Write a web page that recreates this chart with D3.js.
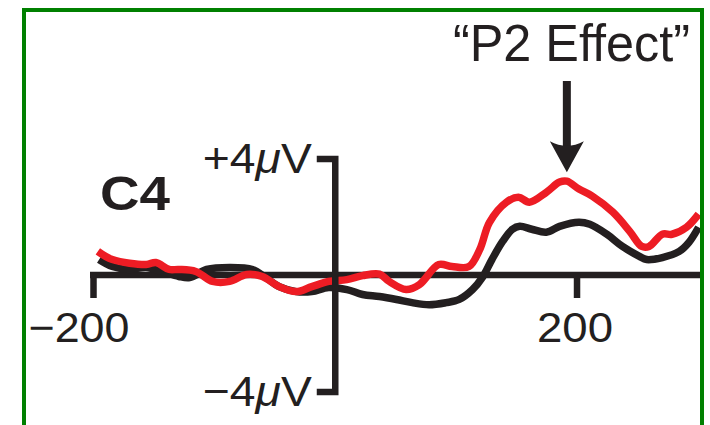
<!DOCTYPE html>
<html>
<head>
<meta charset="utf-8">
<script src="https://cdn.jsdelivr.net/npm/d3@7/dist/d3.min.js"></script>
<style>
  html, body { margin: 0; padding: 0; background: #fff; }
  svg { display: block; }
  text { font-family: "Liberation Sans", Arial, Helvetica, sans-serif; fill: #231f20; }
</style>
</head>
<body>
<svg id="chart" width="710" height="425"></svg>
<script>
// Grand-average ERP at electrode C4, two conditions (time in ms, amplitude in µV)
const redTimes  = [-196, -184, -156, -148, -137, -129, -115, -101, -87, -73, -60, -46, -32, -19, -5, 10, 23, 37, 45, 59, 70, 86, 97, 111, 120, 128, 142, 152, 161, 175, 186, 192, 202, 213, 230, 244, 254, 260, 271, 279, 291, 301];
const redValues = [0.81, 0.53, 0.36, 0.43, 0.19, 0.19, 0.12, -0.22, -0.22, 0.02, -0.05, -0.40, -0.57, -0.40, -0.22, -0.16, -0.02, 0.03, -0.22, -0.50, -0.33, 0.36, 0.29, 0.29, 0.88, 1.81, 2.50, 2.67, 2.50, 2.84, 3.19, 3.22, 2.95, 2.71, 2.16, 1.50, 0.98, 0.98, 1.40, 1.40, 1.64, 2.09];

const blackTimes  = [-195, -184, -170, -156, -143, -129, -120, -106, -87, -68, -57, -46, -32, -19, -5, 10, 23, 37, 51, 64, 78, 92, 103, 114, 122, 130, 139, 147, 153, 163, 175, 186, 202, 211, 225, 238, 252, 258, 271, 285, 293, 301];
const blackValues = [0.53, 0.29, 0.19, 0.26, 0.12, -0.05, -0.09, 0.19, 0.26, 0.19, -0.09, -0.40, -0.57, -0.57, -0.43, -0.50, -0.67, -0.74, -0.84, -0.95, -1.02, -0.95, -0.84, -0.50, -0.09, 0.53, 1.16, 1.57, 1.67, 1.57, 1.47, 1.67, 1.81, 1.74, 1.40, 0.98, 0.64, 0.53, 0.60, 0.81, 1.12, 1.64];

const xTicks = [-200, 200];
const xTickLabels = ["\u2212200", "200"];
const yTicks = [4, -4];
const yTickLabels = [["+4", "V"], ["\u22124", "V"]];
const electrode = "C4";
const effectLabel = "\u201CP2 Effect\u201D";
const effectTime = 192;
const effectValue = 3.22;

const svg = d3.select("#chart");
const ink = "#231f20";
const red = "#ed1c24";

const x = d3.scaleLinear().domain([-200, 300]).range([93, 697.4]);
const y = d3.scaleLinear().domain([-4, 4]).range([391.5, 158.5]);

// panel frame (open at the bottom)
svg.append("path")
  .attr("d", "M24,430 V10 H702 V430")
  .attr("fill", "none")
  .attr("stroke", "#008000")
  .attr("stroke-width", 4);

svg.append("defs").append("clipPath").attr("id", "plotclip")
  .append("rect").attr("x", 0).attr("y", 0).attr("width", 700).attr("height", 425);

const plot = svg.append("g").attr("clip-path", "url(#plotclip)");

// time axis with downward ticks
const xAxis = d3.axisBottom(x)
  .tickValues(xTicks)
  .tickSizeInner(23)
  .tickSizeOuter(0)
  .tickPadding(10)
  .tickFormat((d, i) => xTickLabels[i]);

const gx = plot.append("g")
  .attr("transform", `translate(0,${y(0)})`)
  .call(xAxis);
gx.select(".domain")
  .attr("d", `M${x(-200) - 3},0 H${x(300) + 20}`)
  .attr("stroke", ink).attr("stroke-width", 6.5);
gx.selectAll(".tick line").attr("stroke", ink).attr("stroke-width", 6.5);
gx.selectAll(".tick text")
  .attr("text-anchor", "end")
  .attr("x", 36)
  .attr("y", 0)
  .attr("dy", 67)
  .attr("textLength", (d, i) => i === 0 ? 101 : 76)
  .attr("lengthAdjust", "spacingAndGlyphs")
  .style("font-size", "42px")
  .style("font-family", "'Liberation Sans', Arial, sans-serif")
  .attr("fill", ink);

// waveforms
const line = d3.line().curve(d3.curveCatmullRom.alpha(0.5));
const blackPts = blackTimes.map((t, i) => [x(t), y(blackValues[i])]);
const redPts = redTimes.map((t, i) => [x(t), y(redValues[i])]);

plot.append("path")
  .attr("d", line(blackPts))
  .attr("fill", "none").attr("stroke", ink)
  .attr("stroke-width", 7.5).attr("stroke-linejoin", "round");
plot.append("path")
  .attr("d", line(redPts))
  .attr("fill", "none").attr("stroke", red)
  .attr("stroke-width", 7.5).attr("stroke-linejoin", "round");

// amplitude axis: bracket with +/-4 µV ends
const yAxis = d3.axisLeft(y)
  .tickValues(yTicks)
  .tickSizeInner(0)
  .tickSizeOuter(18)
  .tickPadding(24)
  .tickFormat(() => "");

const gy = svg.append("g")
  .attr("transform", `translate(${x(0)},0)`)
  .call(yAxis);
gy.select(".domain").attr("stroke", ink).attr("stroke-width", 6.5).attr("fill", "none");
gy.selectAll(".tick line").remove();
gy.selectAll(".tick text").each(function (d, i) {
  const t = d3.select(this)
    .attr("text-anchor", "end")
    .attr("x", -23)
    .attr("dy", 14)
    .attr("textLength", 109)
    .attr("lengthAdjust", "spacingAndGlyphs")
    .style("font-size", "43px")
    .attr("fill", ink);
  t.append("tspan").text(yTickLabels[i][0]);
  t.append("tspan").style("font-style", "italic").text("\u03BC");
  t.append("tspan").text(yTickLabels[i][1]);
});

// electrode label
svg.append("text")
  .attr("x", 100).attr("y", 210)
  .style("font-size", "48px").style("font-weight", "bold")
  .attr("textLength", 70).attr("lengthAdjust", "spacingAndGlyphs")
  .text(electrode);

// effect annotation
const ax = x(effectTime);
const tipY = y(effectValue) - 9;
svg.append("text")
  .attr("x", 453).attr("y", 61)
  .style("font-size", "52px")
  .attr("textLength", 237).attr("lengthAdjust", "spacingAndGlyphs")
  .text(effectLabel);
svg.append("line")
  .attr("x1", ax).attr("x2", ax)
  .attr("y1", 81).attr("y2", tipY - 22)
  .attr("stroke", ink).attr("stroke-width", 8);
svg.append("path")
  .attr("d", `M${ax},${tipY} L${ax - 17},${tipY - 31} Q${ax},${tipY - 22} ${ax + 17},${tipY - 31} Z`)
  .attr("fill", ink);
</script>
</body>
</html>
